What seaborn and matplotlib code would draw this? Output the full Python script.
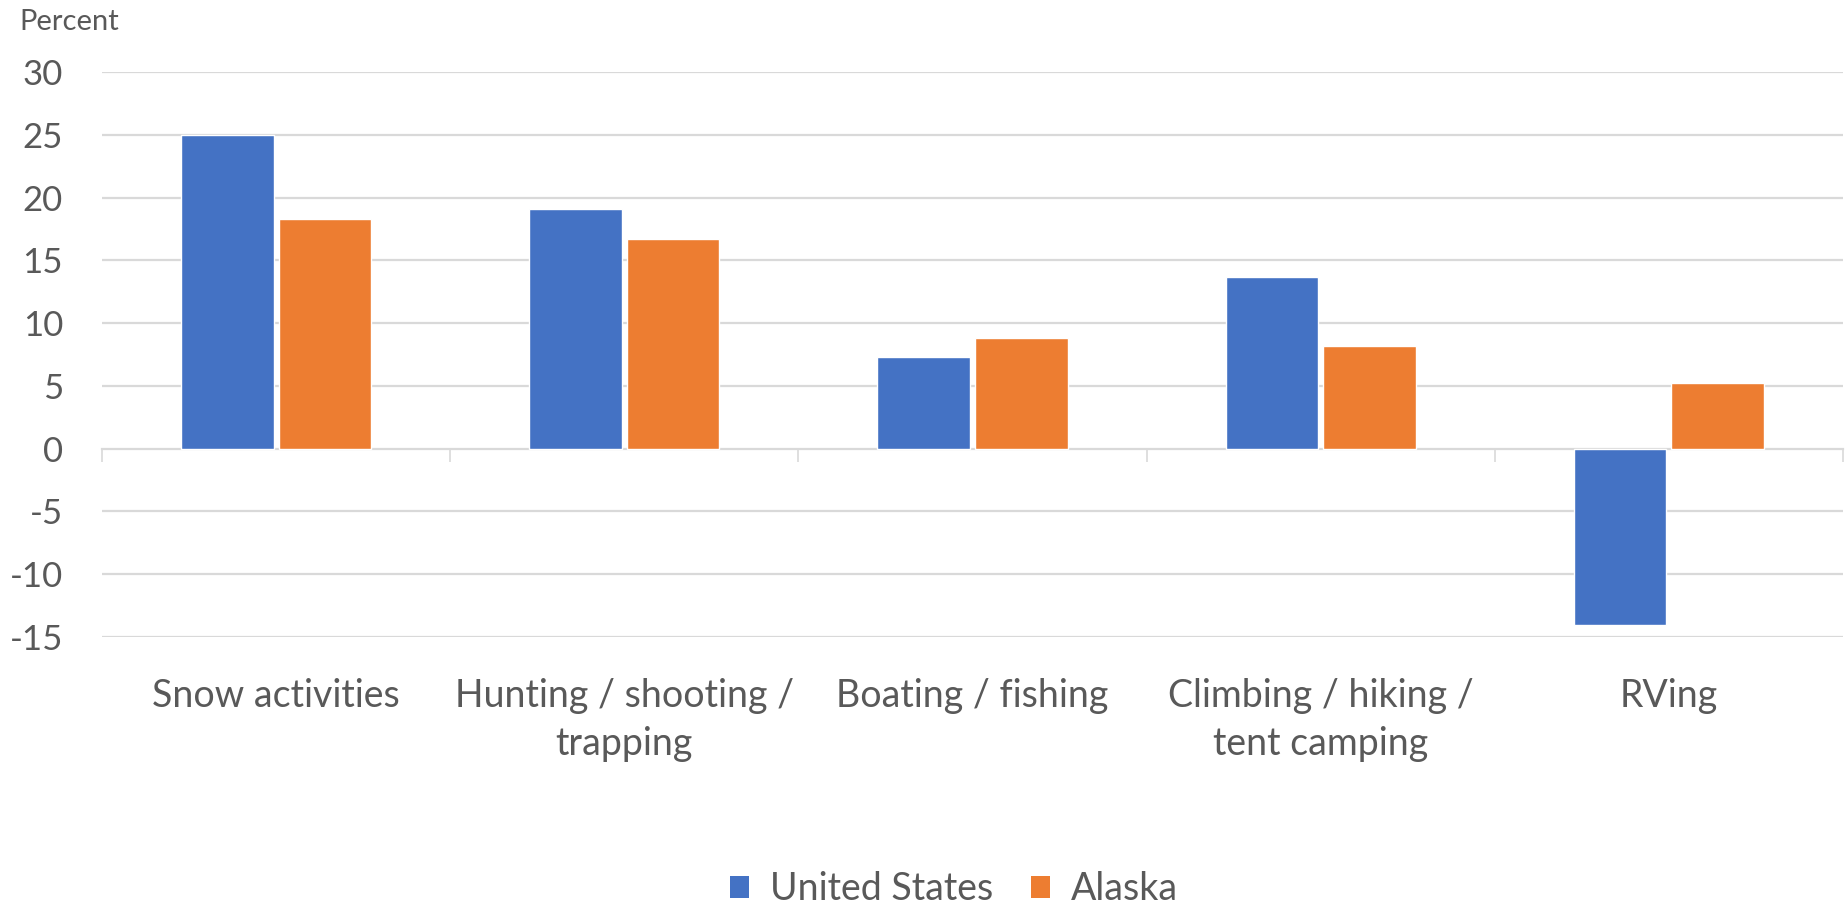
import matplotlib
matplotlib.use("Agg")
import matplotlib.pyplot as plt
import seaborn as sns
import pandas as pd
from matplotlib.ticker import FixedLocator, MultipleLocator

categories = ["Snow activities", "Hunting / shooting /\ntrapping", "Boating / fishing",
              "Climbing / hiking /\ntent camping", "RVing"]
us_values = [25.0, 19.1, 7.3, 13.7, -14.1]
ak_values = [18.3, 16.7, 8.8, 8.2, 5.2]
series_names = ["United States", "Alaska"]
colors = ["#4472C4", "#ED7D31"]
y_ticks = [-15, -10, -5, 0, 5, 10, 15, 20, 25, 30]

df = pd.DataFrame({
    "category": categories * 2,
    "value": us_values + ak_values,
    "series": [series_names[0]] * len(categories) + [series_names[1]] * len(categories),
})

sns.set_theme(style="white")
plt.rcParams["font.family"] = ["Lato", "DejaVu Sans"]
text_color = "#595959"
grid_color = "#D9D9D9"

fig = plt.figure(figsize=(18.45, 9.07), dpi=100)
ax = fig.add_axes([102 / 1845, 1 - 636.7 / 907, (1843 - 102) / 1845, (636.7 - 72.3) / 907])

sns.barplot(data=df, x="category", y="value", hue="series", palette=colors,
            saturation=1, width=0.56, gap=0.05, edgecolor="white", linewidth=1.0,
            ax=ax, legend=True, zorder=3)

ax.set_ylim(-15, 30)
ax.set_xlim(-0.5, len(categories) - 0.5)
ax.yaxis.set_major_locator(FixedLocator(y_ticks))
ax.set_yticklabels([str(v) for v in y_ticks])
ax.grid(axis="y", color=grid_color, linewidth=1.6, zorder=0)
ax.grid(axis="x", visible=False)
for gl, v in zip(ax.yaxis.get_gridlines(), y_ticks):
    if v == 0:
        gl.set_visible(False)
for s in ax.spines.values():
    s.set_visible(False)
ax.set_xlabel("")
ax.set_ylabel("")
ax.tick_params(axis="y", length=0, pad=28, labelsize=25, labelcolor=text_color)
ax.tick_params(axis="x", length=0, pad=30, labelsize=27, labelcolor=text_color)
for t in ax.get_xticklabels():
    t.set_linespacing(1.4)
ax.set_axisbelow(True)

# zero axis line with category separator ticks
sec = ax.secondary_xaxis(15 / 45)
sec.set_xlim(ax.get_xlim())
sec.xaxis.set_major_locator(MultipleLocator(1, offset=0.5))
sec.set_xticklabels([])
sec.tick_params(axis="x", direction="out", length=9.5, width=1.2, color=grid_color)
for name, s in sec.spines.items():
    if name == "bottom":
        s.set_color(grid_color)
        s.set_linewidth(1.6)
    else:
        s.set_visible(False)

# legend
handles, labels = ax.get_legend_handles_labels()
ax.get_legend().remove()
leg = fig.legend(handles, labels, loc="center", bbox_to_anchor=(954 / 1845, 1 - 889 / 907),
                 ncol=2, frameon=False, fontsize=27, handlelength=0.52, handleheight=0.52,
                 handletextpad=0.55, columnspacing=1.0, labelcolor=text_color)
for h in leg.legend_handles:
    h.set_edgecolor("none")

fig.text(19 / 1845, 1 - 22 / 907, "Percent", fontsize=21, color=text_color,
         ha="left", va="center")

fig.savefig("out.png", dpi=100, facecolor="white")
